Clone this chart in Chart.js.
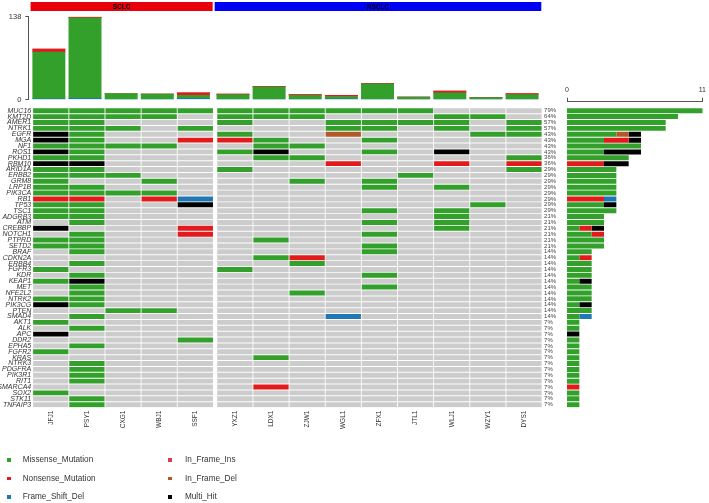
<!DOCTYPE html>
<html>
<head>
<meta charset="utf-8">
<title>Oncoplot SCLC / NSCLC</title>
<script src="https://cdn.jsdelivr.net/npm/chart.js@4.4.1/dist/chart.umd.min.js"></script>
<style>
  body { margin: 0; background: #fff; }
  #wrap { position: relative; width: 709px; height: 503px; overflow: hidden; }
  canvas { position: absolute; }
  .lg { position: absolute; font: 8.2px 'Liberation Sans', Arial, sans-serif; color: #333; white-space: nowrap; line-height: 10px; }
  .sw { position: absolute; width: 3.5px; height: 3.5px; }
</style>
</head>
<body>
<div id="wrap">
  <canvas id="tmbChart" width="563" height="108" style="left:0;top:0"></canvas>
  <canvas id="groupBar" width="563" height="14" style="left:0;top:0"></canvas>
  <canvas id="oncoChart" width="563" height="345" style="left:0;top:100px"></canvas>
  <canvas id="geneAxis" width="149" height="23" style="left:560px;top:80px"></canvas>
  <canvas id="geneChart" width="149" height="330" style="left:560px;top:80px"></canvas>
  <div id="legend"></div>
</div>
<script>
// samples (columns) and groups
var samples = ['JFJ1', 'PSY1', 'CXG1', 'WBJ1', 'SSF1', 'YXZ1', 'LDX1', 'ZJW1', 'WGL1', 'ZFX1', 'JTL1', 'WLJ1', 'WZY1', 'DYS1'];
var groupNames = ['SCLC', 'NSCLC'];
var groupSizes = [5, 9];

// genes (rows), top to bottom
var genes = ['MUC16', 'KMT2D', 'AMER1', 'NTRK1', 'EGFR', 'MGA', 'NF1', 'ROS1', 'PKHD1', 'RBM10',
    'ARID1A', 'ERBB2', 'GRM8', 'LRP1B', 'PIK3CA', 'RB1', 'TP53', 'TSC1', 'ADGRB3', 'ATM',
    'CREBBP', 'NOTCH1', 'PTPRD', 'SETD2', 'BRAF', 'CDKN2A', 'ERBB4', 'FGFR3', 'KDR', 'KEAP1',
    'MET', 'NFE2L2', 'NTRK2', 'PIK3CG', 'PTEN', 'SMAD4', 'AKT1', 'ALK', 'APC', 'DDR2',
    'EPHA5', 'FGFR2', 'KRAS', 'NTRK3', 'PDGFRA', 'PIK3R1', 'RIT1', 'SMARCA4', 'SOX2', 'STK11', 'TNFAIP3'];

// one string per gene, one char per sample
// M missense, N nonsense, F frame shift del, D in frame del, H multi hit, . none
var mutRows = [
    'MMMMMMMMMMM...', // MUC16
    'MMMM.MMM...MM.', // KMT2D
    'MM...M..MMMM.M', // AMER1
    'MMM.M...MM.M.M', // NTRK1
    'HM...M..D...MM', // EGFR
    'HM..NNM..M....', // MGA
    'MMMM..MM......', // NF1
    'HM...MH..M.H..', // ROS1
    'MM....MM.....M', // PKHD1
    'HH......N..N.N', // RBM10
    'MM...M.......M', // ARID1A
    'MMM.......M...', // ERBB2
    'M..M...M.M....', // GRM8
    'MM.......M.M..', // LRP1B
    'MMMM..........', // PIK3CA
    'NN.NF.........', // RB1
    'MM..H.......M.', // TP53
    'MM.......M.M..', // TSC1
    'MM.........M..', // ADGRB3
    '.M.......M.M..', // ATM
    'H...N......M..', // CREBBP
    '.M..N....M....', // NOTCH1
    'MM....M.......', // PTPRD
    'MM.......M....', // SETD2
    '.M.......M....', // BRAF
    '......MN......', // CDKN2A
    '.M.....M......', // ERBB4
    'M....M........', // FGFR3
    '.M.......M....', // KDR
    'MH............', // KEAP1
    '.M.......M....', // MET
    '.M.....M......', // NFE2L2
    'MM............', // NTRK2
    'HM............', // PIK3CG
    '..MM..........', // PTEN
    '.M......F.....', // SMAD4
    'M.............', // AKT1
    '.M............', // ALK
    'H.............', // APC
    '....M.........', // DDR2
    '.M............', // EPHA5
    'M.............', // FGFR2
    '......M.......', // KRAS
    '.M............', // NTRK3
    '.M............', // PDGFRA
    '.M............', // PIK3R1
    '.M............', // RIT1
    '......N.......', // SMARCA4
    'M.............', // SOX2
    '.M............', // STK11
    '.M............'  // TNFAIP3
];

// top bar: mutations per sample
var tmbFrameShiftDel = [1, 2, 0, 0, 2, 0, 0, 0, 1, 0, 0, 0, 0, 0];
var tmbMissense = [78, 134, 10, 9, 5, 8, 21, 7, 4, 26, 4, 11, 3, 8];
var tmbNonsense = [5, 1, 0, 0, 4, 1, 1, 1, 2, 1, 0, 3, 0, 2];
var tmbInFrameIns = [0, 1, 0, 0, 0, 0, 0, 0, 0, 0, 0, 0, 0, 0];
var tmbTicks = [0, 138];
var geneCountTicks = [0, 11];

var mutNames = { M: 'Missense_Mutation', N: 'Nonsense_Mutation', F: 'Frame_Shift_Del', I: 'In_Frame_Ins', D: 'In_Frame_Del', H: 'Multi_Hit' };
var mutColors = { M: '#33A02C', N: '#E31A1C', F: '#1F78B4', I: '#D53E4F', D: '#B15928', H: '#000000', '.': '#CCCCCC' };
var legendOrder = ['M', 'N', 'F', 'I', 'D', 'H'];
var rightOrder = ['M', 'N', 'F', 'D', 'H'];

var FONT = "'Liberation Sans', Arial, sans-serif";
var NARROW = "'Liberation Sans Narrow', 'Arial Narrow', 'Liberation Sans', Arial, sans-serif";
Chart.defaults.font.family = FONT;
Chart.defaults.color = '#333';

// layout helpers (page px)
var X0 = 32.7, U = 36.14, GAP = 0.094;
var NCOL = samples.length + GAP;

function colStart(c) {
    return c < groupSizes[0] ? c : c + GAP;
}

function fixedTicks(vals) {
    return function(ax) {
        ax.ticks = vals.map(function(v) { return { value: v }; });
    };
}

var nSamples = samples.length;
var geneCounts = mutRows.map(function(row) {
    return row.split('').filter(function(ch) { return ch !== '.'; }).length;
});
var pctLabels = geneCounts.map(function(n) { return Math.round(n / nSamples * 100) + '%'; });

// *** GROUP BAR ***
var groupLabelPlugin = {
    id: 'groupLabels',
    afterDatasetsDraw: function(chart) {
        var ctx = chart.ctx;
        ctx.save();
        ctx.font = 'bold 6.5px ' + FONT;
        ctx.fillStyle = '#000';
        ctx.textAlign = 'center';
        ctx.textBaseline = 'middle';
        chart.data.datasets.forEach(function(ds, i) {
            var bar = chart.getDatasetMeta(i).data[0];
            ctx.fillText(ds.label, (bar.x + bar.base) / 2, bar.y + 0.5);
        });
        ctx.restore();
    }
};

var firstCol = 0;
var groupDatasets = groupNames.map(function(name, g) {
    var a = colStart(firstCol) - 0.05;
    var b = colStart(firstCol + groupSizes[g] - 1) + 1 - 0.03;
    firstCol += groupSizes[g];
    return {
        label: name,
        data: [[a, b]],
        backgroundColor: g === 0 ? '#E8000B' : '#0000F5',
        grouped: false,
        barPercentage: 1,
        categoryPercentage: 1
    };
});

var gMin = -0.2, gMax = 14.3;
new Chart(document.getElementById('groupBar'), {
    type: 'bar',
    data: { labels: ['group'], datasets: groupDatasets },
    options: {
        responsive: false,
        animation: false,
        indexAxis: 'y',
        layout: { padding: { top: 2, bottom: 3, left: X0 + gMin * U, right: 563 - (X0 + gMax * U) } },
        plugins: { legend: { display: false }, tooltip: { enabled: false } },
        scales: {
            x: { type: 'linear', min: gMin, max: gMax, display: false },
            y: { display: false }
        }
    },
    plugins: [groupLabelPlugin]
});

// *** TOP BAR (mutations per sample) ***
var tShift = -1.9;
var tAxisX = 28.3;
var tMin = (tAxisX - X0 - tShift) / U;
var tMax = 14.15;

function tmbData(vals) {
    return samples.map(function(s, c) { return { x: colStart(c) + 0.5, y: vals[c] }; });
}

new Chart(document.getElementById('tmbChart'), {
    type: 'bar',
    data: {
        datasets: [
            { label: mutNames.F, data: tmbData(tmbFrameShiftDel), backgroundColor: mutColors.F },
            { label: mutNames.M, data: tmbData(tmbMissense), backgroundColor: mutColors.M },
            { label: mutNames.N, data: tmbData(tmbNonsense), backgroundColor: mutColors.N },
            { label: mutNames.I, data: tmbData(tmbInFrameIns), backgroundColor: mutColors.I }
        ]
    },
    options: {
        responsive: false,
        animation: false,
        barThickness: 32.3,
        layout: { padding: { top: 16.7, bottom: 5.7, left: 0, right: 563 - (X0 + tShift + tMax * U) } },
        plugins: { legend: { display: false }, tooltip: { enabled: false } },
        scales: {
            x: { type: 'linear', min: tMin, max: tMax, stacked: true, offset: false, grid: { offset: false }, display: false },
            y: {
                stacked: true,
                min: tmbTicks[0],
                max: tmbTicks[1],
                afterBuildTicks: fixedTicks(tmbTicks),
                afterFit: function(ax) { ax.width = tAxisX; },
                grid: { drawOnChartArea: false, tickLength: 3, color: '#555' },
                border: { color: '#555' },
                ticks: { font: { size: 7.5 }, padding: 4, color: '#333' }
            }
        }
    }
});

// *** MAIN GRID ***
var oncoDatasets = samples.map(function(s, c) {
    return {
        label: s,
        data: genes.map(function() { return [colStart(c) + 0.012, colStart(c) + 1 - 0.012]; }),
        backgroundColor: genes.map(function(g, r) { return mutColors[mutRows[r].charAt(c)]; }),
        grouped: false,
        barPercentage: 0.84,
        categoryPercentage: 1,
        borderWidth: 0
    };
});

new Chart(document.getElementById('oncoChart'), {
    type: 'bar',
    data: { labels: genes, datasets: oncoDatasets },
    options: {
        responsive: false,
        animation: false,
        indexAxis: 'y',
        layout: { padding: { top: 7.8, left: 0, right: 0, bottom: 0 } },
        plugins: { legend: { display: false }, tooltip: { enabled: false } },
        scales: {
            x: {
                type: 'linear',
                min: 0,
                max: NCOL,
                position: 'bottom',
                grid: { display: false, drawTicks: false },
                border: { display: false },
                afterBuildTicks: function(ax) {
                    ax.ticks = samples.map(function(s, c) { return { value: colStart(c) + 0.5 }; });
                },
                afterFit: function(ax) { ax.height = 37.4; },
                ticks: {
                    autoSkip: false,
                    minRotation: 90,
                    maxRotation: 90,
                    padding: 3,
                    font: { size: 6.5, family: NARROW },
                    color: '#333',
                    callback: function(v, i) { return samples[i]; }
                }
            },
            y: {
                type: 'category',
                labels: genes,
                grid: { display: false, drawTicks: false },
                border: { display: false },
                afterFit: function(ax) { ax.width = X0; },
                ticks: { autoSkip: false, padding: 1.5, font: { size: 7, style: 'italic' }, color: '#333' }
            },
            y2: {
                type: 'category',
                labels: pctLabels,
                position: 'right',
                offset: true,
                grid: { display: false, drawTicks: false },
                border: { display: false },
                afterFit: function(ax) { ax.width = 563 - (X0 + NCOL * U); },
                ticks: { autoSkip: false, padding: 2, font: { size: 6, family: NARROW }, color: '#444' }
            }
        }
    }
});

// *** RIGHT BAR (samples per gene) ***
var rightPad = { left: 7, right: 6.3 };

// axis bracket sits a few px above the bars, so it gets its own small chart
new Chart(document.getElementById('geneAxis'), {
    type: 'scatter',
    data: { datasets: [] },
    options: {
        responsive: false,
        animation: false,
        layout: { padding: { top: 0, left: rightPad.left, right: rightPad.right, bottom: 0 } },
        plugins: { legend: { display: false }, tooltip: { enabled: false } },
        scales: {
            x: {
                type: 'linear',
                position: 'top',
                min: geneCountTicks[0],
                max: geneCountTicks[1],
                afterBuildTicks: fixedTicks(geneCountTicks),
                afterFit: function(ax) { ax.height = 21.7; },
                grid: { drawOnChartArea: false, tickLength: 4, color: '#555' },
                border: { color: '#555' },
                ticks: { font: { size: 7 }, padding: 3, color: '#333' }
            },
            y: { display: false }
        }
    }
});

var rightDatasets = rightOrder.map(function(code) {
    return {
        label: mutNames[code],
        data: mutRows.map(function(row) {
            return row.split('').filter(function(ch) { return ch === code; }).length;
        }),
        backgroundColor: mutColors[code],
        barPercentage: 0.85,
        categoryPercentage: 1,
        borderWidth: 0
    };
});

new Chart(document.getElementById('geneChart'), {
    type: 'bar',
    data: { labels: genes, datasets: rightDatasets },
    options: {
        responsive: false,
        animation: false,
        indexAxis: 'y',
        layout: { padding: { top: 27.8, left: rightPad.left, right: rightPad.right, bottom: 2.4 } },
        plugins: { legend: { display: false }, tooltip: { enabled: false } },
        scales: {
            x: { type: 'linear', min: geneCountTicks[0], max: geneCountTicks[1], stacked: true, display: false },
            y: { type: 'category', labels: genes, stacked: true, display: false }
        }
    }
});

// *** LEGEND ***
var legendBox = document.getElementById('legend');
legendOrder.forEach(function(code, i) {
    var col = Math.floor(i / 3);
    var row = i % 3;
    var top = 460 + row * 18.6;
    var sw = document.createElement('div');
    sw.className = 'sw';
    sw.style.left = (col ? 168.3 : 7.3) + 'px';
    sw.style.top = (top - 1.75) + 'px';
    sw.style.background = mutColors[code];
    var tx = document.createElement('div');
    tx.className = 'lg';
    tx.style.left = (col ? 185 : 22.7) + 'px';
    tx.style.top = (top - 5) + 'px';
    tx.textContent = mutNames[code];
    legendBox.appendChild(sw);
    legendBox.appendChild(tx);
});
</script>
</body>
</html>
